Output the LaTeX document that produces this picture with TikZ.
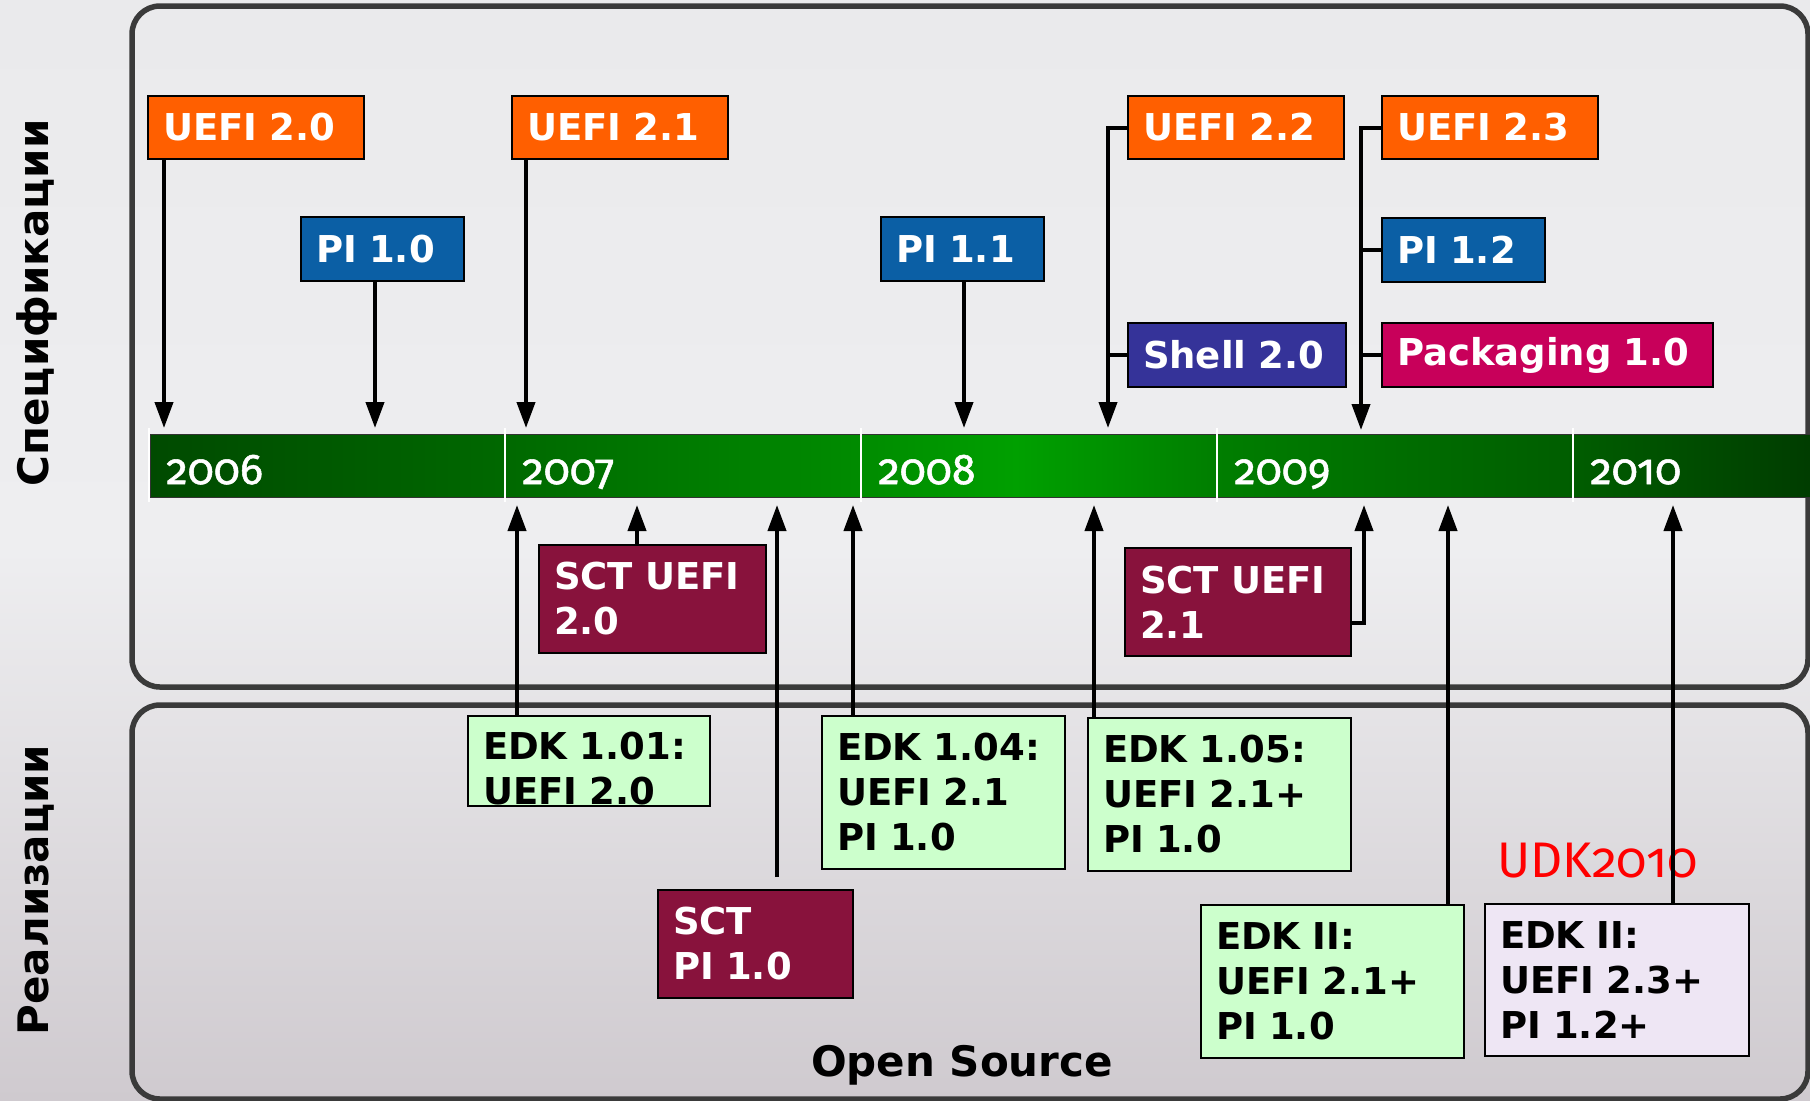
\documentclass[tikz,border=0pt]{standalone}
\usepackage{fontspec}
\setmainfont{DejaVu Sans}
\newfontfamily\yearfont[Numbers=OldStyle]{Fira Sans}
\newfontfamily\yearfontb[Numbers=OldStyle, FakeBold=1.2]{Fira Sans}
\usetikzlibrary{arrows.meta}

\definecolor{uefiorange}{HTML}{FF5F00}
\definecolor{piblue}{HTML}{0B5FA5}
\definecolor{shellblue}{HTML}{353399}
\definecolor{packpink}{HTML}{C8005A}
\definecolor{sctred}{HTML}{88123C}
\definecolor{edkgreen}{HTML}{CCFFCC}
\definecolor{udklilac}{HTML}{EEE6F4}
\definecolor{udkred}{HTML}{FF0000}
\definecolor{panelgray}{HTML}{3A3A3A}
\definecolor{bgtop}{HTML}{EAEAEC}
\definecolor{bgmid}{HTML}{EEEEF0}
\definecolor{bgbot}{HTML}{CFCACF}
\definecolor{bar0}{HTML}{004A00}
\definecolor{bar1}{HTML}{006800}
\definecolor{bar2}{HTML}{008C00}
\definecolor{bar3}{HTML}{00A000}
\definecolor{bar4}{HTML}{007E00}
\definecolor{bar5}{HTML}{005E00}
\definecolor{bar6}{HTML}{003C00}
\pgfdeclarehorizontalshading{timebar}{100bp}{color(0bp)=(bar0); color(25bp)=(bar0);
  color(35.5bp)=(bar1); color(46.5bp)=(bar2); color(51bp)=(bar3); color(57bp)=(bar4);
  color(67.5bp)=(bar5); color(75bp)=(bar6); color(100bp)=(bar6)}

\tikzset{
        box/.style = { draw=black, line width=1pt, anchor=north west, inner xsep=7.5pt, inner ysep=0pt,
                       align=left, font=\bfseries\fontsize{18.5pt}{22.5pt}\selectfont },
       spec/.style = { box, text=white },
       impl/.style = { box, text=black },
        arr/.style = { line width=2pt, -{Triangle[length=13pt,width=9pt]} },
       link/.style = { line width=2pt },
      panel/.style = { draw=panelgray, line width=2.75pt, rounded corners=14pt },
       year/.style = { anchor=base west, inner sep=0pt, text=white, font=\yearfontb\fontsize{21.5pt}{21.5pt}\selectfont },
    divider/.style = { draw=white, line width=1pt },
    sidelbl/.style = { rotate=90, anchor=base, inner sep=0pt, font=\bfseries\fontsize{21pt}{21pt}\selectfont }
}

\begin{document}
\begin{tikzpicture}[x=0.5pt, y=-0.5pt]
  \useasboundingbox (0,0) rectangle (1810,1100);
  \shade[top color=bgtop, bottom color=bgbot, middle color=bgmid] (0,0) rectangle (1810,1100);

  % panels
  \draw[panel] (132,6) rectangle (1808,687);
  \draw[panel] (132,705) rectangle (1808,1099);

  \node[sidelbl] (speclbl) at (48,303) {Спецификации};
  \node[sidelbl] (impllbl) at (48,890) {Реализации};

  % time line
  \node[shading=timebar, draw=black!80, line width=0.6pt, anchor=north west, inner sep=0pt,
        minimum width=832pt, minimum height=31.5pt] (bar) at (150,434) {};
  \draw[divider] (149,428) -- (149,502);
  \draw[divider] (505,428) -- (505,502);
  \draw[divider] (861,428) -- (861,502);
  \draw[divider] (1217,428) -- (1217,502);
  \draw[divider] (1573,428) -- (1573,502);
  \node[year] (y2006) at (166,484) {2006};
  \node[year] (y2007) at (522,484) {2007};
  \node[year] (y2008) at (878,484) {2008};
  \node[year] (y2009) at (1234,484) {2009};
  \node[year] (y2010) at (1590,484) {2010};

  % specifications
  \node[spec, fill=uefiorange, text width=93pt, minimum height=31.5pt] (uefi20) at (147,95) {UEFI 2.0};
  \node[spec, fill=uefiorange, text width=93pt, minimum height=31.5pt] (uefi21) at (511,95) {UEFI 2.1};
  \node[spec, fill=uefiorange, text width=93pt, minimum height=31.5pt] (uefi22) at (1127,95) {UEFI 2.2};
  \node[spec, fill=uefiorange, text width=93pt, minimum height=31.5pt] (uefi23) at (1381,95) {UEFI 2.3};
  \node[spec, fill=piblue, text width=66.5pt, minimum height=32pt] (pi10) at (300,216) {PI 1.0};
  \node[spec, fill=piblue, text width=66.5pt, minimum height=32pt] (pi11) at (880,216) {PI 1.1};
  \node[spec, fill=piblue, text width=66.5pt, minimum height=32pt] (pi12) at (1381,217) {PI 1.2};
  \node[spec, fill=shellblue, text width=94pt, minimum height=32pt] (shell) at (1127,322) {Shell 2.0};
  \node[spec, fill=packpink, text width=150.5pt, minimum height=32pt] (pack) at (1381,322) {Packaging 1.0};
  \node[spec, fill=sctred, text width=98.5pt, minimum height=54pt] (sctuefi20) at (538,544) {SCT UEFI\\2.0};
  \node[spec, fill=sctred, text width=98pt, minimum height=54pt] (sctuefi21) at (1124,547) {SCT UEFI\\2.1};

  % implementations
  \node[spec, fill=sctred, text width=82.5pt, minimum height=54pt] (sctpi10) at (657,889) {SCT\\PI 1.0};
  \node[impl, fill=edkgreen, text width=106pt, minimum height=45pt, text height=21.5pt] (edk101) at (467,715) {EDK 1.01:\\UEFI 2.0};
  \node[impl, fill=edkgreen, text width=106.5pt, minimum height=76.5pt] (edk104) at (821,715) {EDK 1.04:\\UEFI 2.1\\PI 1.0};
  \node[impl, fill=edkgreen, text width=116.5pt, minimum height=76.5pt] (edk105) at (1087,717) {EDK 1.05:\\UEFI 2.1+\\PI 1.0};
  \node[impl, fill=edkgreen, text width=116.5pt, minimum height=76.5pt] (edkii) at (1200,904) {EDK II:\\UEFI 2.1+\\PI 1.0};
  \node[impl, fill=udklilac, text width=117pt, minimum height=76pt] (udk) at (1484,903) {EDK II:\\UEFI 2.3+\\PI 1.2+};
  \node[anchor=base west, inner sep=0pt, text=udkred, font=\yearfont\fontsize{25pt}{25pt}\selectfont] (udklbl) at (1497,877) {UDK2010};
  \node[anchor=base, inner sep=0pt, font=\bfseries\fontsize{21pt}{21pt}\selectfont] (oslbl) at (962,1076) {Open Source};

  % arrow tips on the bar
  \coordinate (a1) at (164,428);
  \coordinate (a2) at (375,428);
  \coordinate (a3) at (526,428);
  \coordinate (a4) at (964,428);
  \coordinate (a5) at (1108,428);
  \coordinate (a6) at (1361,430);
  \coordinate (b1) at (517,505);
  \coordinate (b2) at (637,505);
  \coordinate (b3) at (777,505);
  \coordinate (b4) at (853,505);
  \coordinate (b5) at (1094,505);
  \coordinate (b6) at (1364,505);
  \coordinate (b7) at (1448,505);
  \coordinate (b8) at (1673,505);
  \coordinate (c3) at (777,877);

  % arrows
  \draw[arr] (uefi20.south -| a1) -- (a1);
  \draw[arr] (pi10.south -| a2) -- (a2);
  \draw[arr] (uefi21.south -| a3) -- (a3);
  \draw[arr] (pi11.south -| a4) -- (a4);
  \draw[arr] (uefi22.west) -| (a5);
  \draw[link] (shell.west) -- (shell.west -| a5);
  \draw[arr] (uefi23.west) -| (a6);
  \draw[link] (pi12.west) -- (pi12.west -| a6);
  \draw[link] (pack.west) -- (pack.west -| a6);

  \draw[arr] (edk101.north -| b1) -- (b1);
  \draw[arr] (sctuefi20.north -| b2) -- (b2);
  \draw[arr] (c3) -- (b3);
  \draw[arr] (edk104.north -| b4) -- (b4);
  \draw[arr] (edk105.north -| b5) -- (b5);
  \draw[arr] ([yshift=-10.5pt]sctuefi21.east) -| (b6);
  \draw[arr] (edkii.north -| b7) -- (b7);
  \draw[arr] (udk.north -| b8) -- (b8);
\end{tikzpicture}
\end{document}
